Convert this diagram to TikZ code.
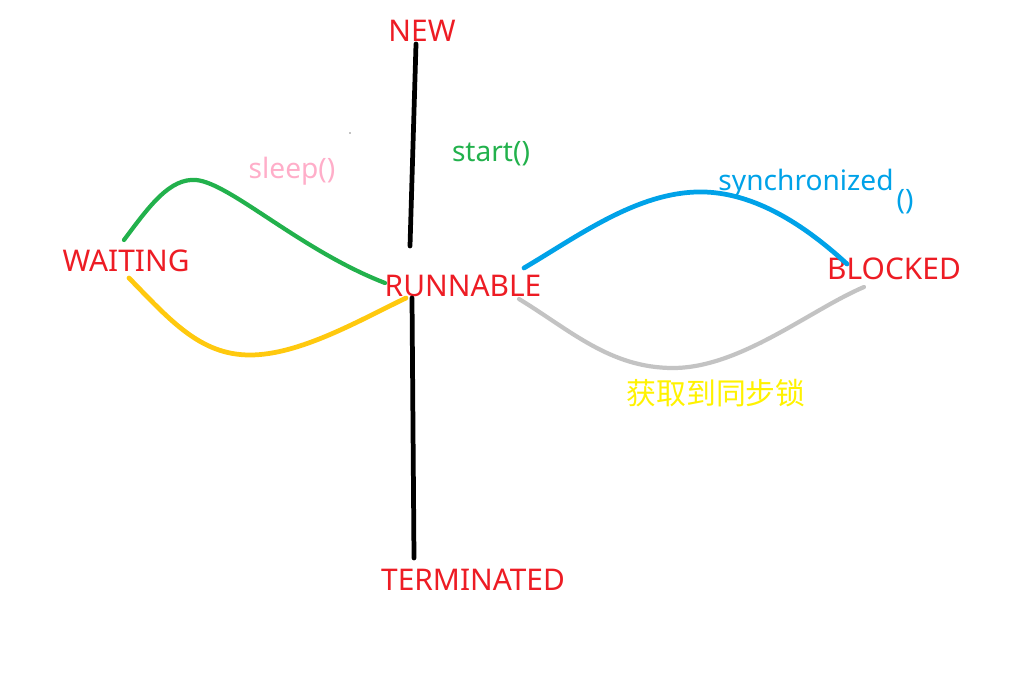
\documentclass[tikz,border=0pt]{standalone}
\usepackage{fontspec}
\setmainfont{Noto Sans}
\newfontfamily\cjk{Noto Sans CJK SC}
\usepackage{tikz}

\definecolor{statered}{RGB}{237,28,36}
\definecolor{startgreen}{RGB}{34,177,76}
\definecolor{sleeppink}{RGB}{255,174,201}
\definecolor{syncblue}{RGB}{0,162,232}
\definecolor{lockyellow}{RGB}{255,242,0}
\definecolor{waitorange}{RGB}{255,201,14}
\definecolor{backgray}{RGB}{195,195,195}

\begin{document}
\begin{tikzpicture}[x=0.02cm, y=-0.02cm,
  state/.style={text=statered, inner sep=0pt, font=\fontsize{17}{19}\selectfont},
  call/.style={inner sep=0pt, font=\fontsize{16}{18}\selectfont},
  stroke/.style={line width=2.7pt, line cap=round}]

\useasboundingbox (0,0) rectangle (1011,682);

% states
\node[state] (new) at (422,31) {NEW};
\node[state] (waiting) at (126,261) {WAITING};
\node[state] (runnable) at (463,286) {RUNNABLE};
\node[state] (blocked) at (894,269) {BLOCKED};
\node[state] (terminated) at (473,580) {TERMINATED};

% method labels
\node[call, text=startgreen] (start) at (491,154) {start()};
\node[call, text=sleeppink] (sleep) at (292,171) {sleep()};
\node[call, text=syncblue] (sync) at (806,183) {synchronized};
\node[call, text=syncblue] (syncparen) at (905,202) {()};
\node[call, text=lockyellow, font=\cjk\fontsize{17}{19}\selectfont] (lock) at (716,393) {获取到同步锁};
\fill (350,133) circle (0.6);

% line ends
\coordinate (newend) at (416,44);
\coordinate (runtop) at (410,246);
\coordinate (runbot) at (412,298);
\coordinate (termtop) at (414,558);
\coordinate (waitup) at (124,240);
\coordinate (waitdown) at (129,278);
\coordinate (runleftup) at (385,283);
\coordinate (runleftdown) at (406,298);
\coordinate (runrightup) at (524,268);
\coordinate (runrightdown) at (519,299);
\coordinate (blockup) at (847,264);
\coordinate (blockdown) at (864,287);

\draw[stroke, black] (newend) -- (runtop);
\draw[stroke, black] (runbot) -- (termtop);
\draw[stroke, startgreen, line width=2.4pt] (waitup) .. controls (150,205) and (170,178) .. (196,180)
  .. controls (230,183) and (300,250) .. (runleftup);
\draw[stroke, waitorange] (waitdown) .. controls (170,320) and (200,355) .. (250,355)
  .. controls (300,355) and (360,320) .. (runleftdown);
\draw[stroke, syncblue] (runrightup) .. controls (580,235) and (640,190) .. (705,192)
  .. controls (760,194) and (810,230) .. (blockup);
\draw[stroke, backgray, line width=2.4pt] (runrightdown) .. controls (570,330) and (610,368) .. (673,368)
  .. controls (740,368) and (810,310) .. (blockdown);
\end{tikzpicture}
\end{document}
